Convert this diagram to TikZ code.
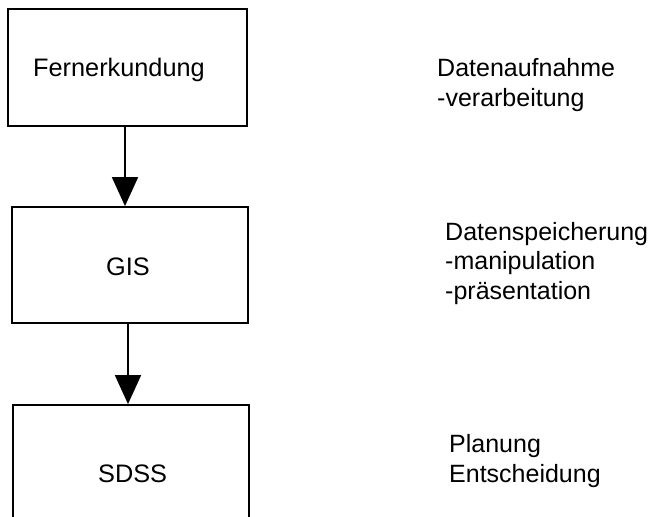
\documentclass[tikz,border=0pt]{standalone}
\usepackage{fontspec}
\setmainfont{Liberation Sans}
\usetikzlibrary{arrows.meta}
\begin{document}
\begin{tikzpicture}[x=1pt,y=1pt,
  box/.style={draw, line width=1.8pt, inner sep=0pt},
  lbl/.style={font=\fontsize{25.3}{29}\selectfont, inner sep=0pt, anchor=base west},
  desc/.style={font=\fontsize{25}{29.5}\selectfont, inner sep=0pt, anchor=base west, align=left},
  conn/.style={line width=1.8pt, -{Triangle[width=26pt,length=29pt]}}]
\useasboundingbox (0,0) rectangle (654,-517);
\clip (0,0) rectangle (654,-517);
% boxes
\node[box, minimum width=239pt, minimum height=117pt] (b1) at (127.5,-67.5) {};
\node[box, minimum width=236pt, minimum height=116pt] (b2) at (130,-265) {};
\node[box, minimum width=236pt, minimum height=130pt] (b3) at (131,-470) {};
% box texts
\node[lbl] (t1) at (33,-76) {Fernerkundung};
\node[lbl] (t2) at (106,-275) {GIS};
\node[lbl] (t3) at (98,-482) {SDSS};
% connectors
\draw[conn] (b1.south -| 125,0) -- (b2.north -| 125,0);
\draw[conn] (b2.south -| 128,0) -- (b3.north -| 128,0);
% descriptions (base = baseline of last line)
\node[desc] (d1) at (437,-106) {Datenaufnahme\\-verarbeitung};
\node[desc] (d2) at (445,-299) {Datenspeicherung\\-manipulation\\-präsentation};
\node[desc] (d3) at (449,-482) {Planung\\Entscheidung};
\end{tikzpicture}
\end{document}
